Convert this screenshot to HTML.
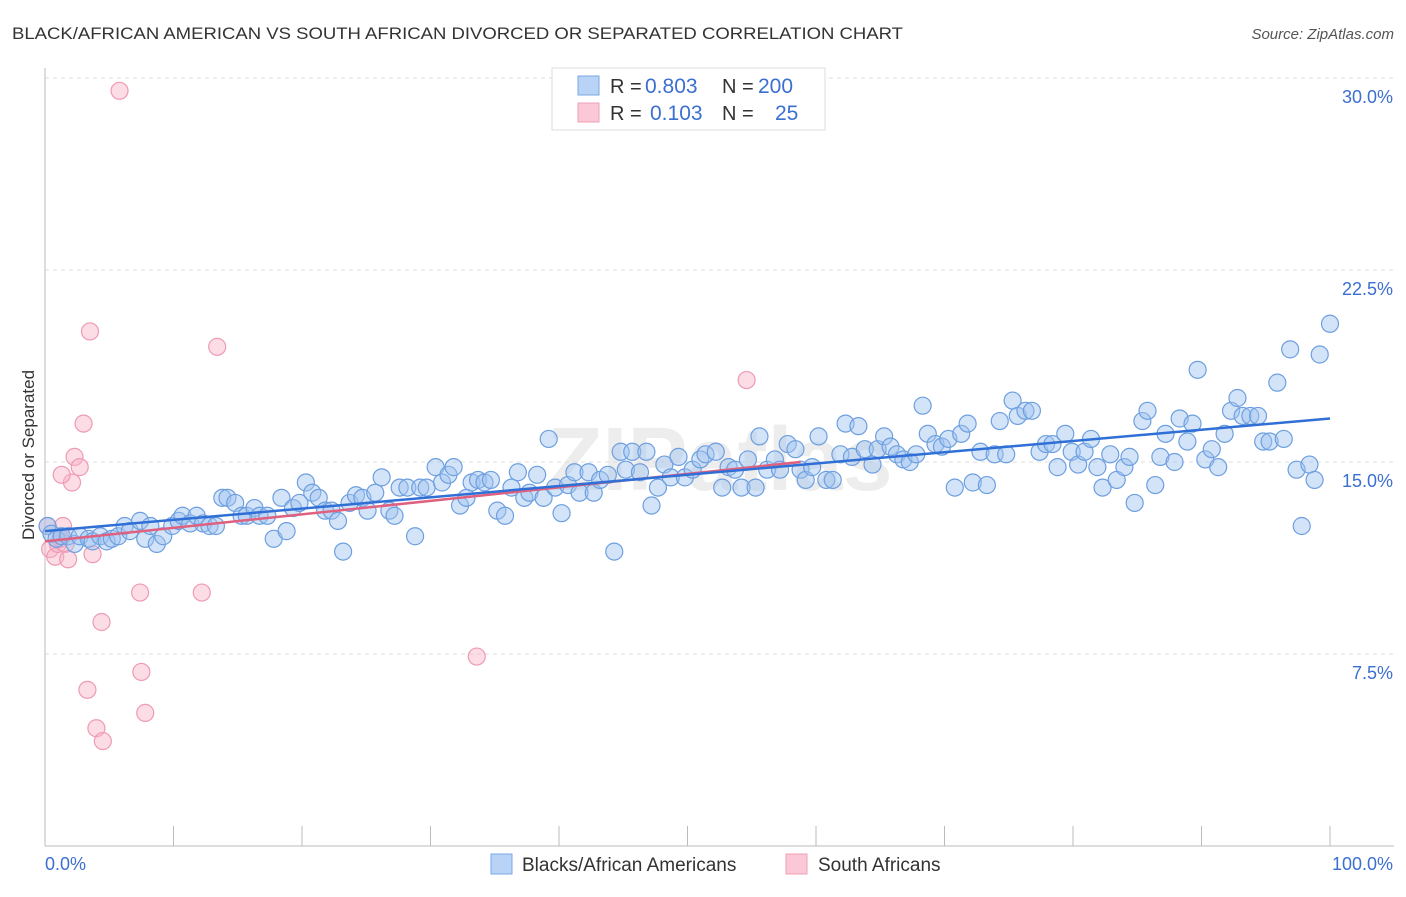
<!DOCTYPE html>
<html><head><meta charset="utf-8"><style>
body{margin:0;background:#fff;font-family:"Liberation Sans",sans-serif}
</style></head><body>
<svg id="chart" width="1406" height="892" xmlns="http://www.w3.org/2000/svg" font-family="Liberation Sans, sans-serif">
<text x="12" y="39" font-size="17" fill="#333" textLength="891" lengthAdjust="spacingAndGlyphs">BLACK/AFRICAN AMERICAN VS SOUTH AFRICAN DIVORCED OR SEPARATED CORRELATION CHART</text>
<text x="1394" y="39" font-size="15" fill="#555" font-style="italic" text-anchor="end">Source: ZipAtlas.com</text>
<text x="720" y="490" font-size="90" fill="#e6e6e6" text-anchor="middle" font-weight="bold" opacity="0.7">ZIPatlas</text>
<g id="grid"></g><g id="axes"></g><g id="pink"></g><g id="blue"></g><g id="trends"></g>
<text transform="translate(34,455) rotate(-90)" font-size="17" fill="#333" text-anchor="middle">Divorced or Separated</text>
<g font-size="20">
<rect x="552" y="68" width="273" height="62" fill="#fff" stroke="#ddd"/>
<rect x="578" y="76" width="21" height="19" fill="#b8d3f5" stroke="#7aa8e6"/>
<rect x="578" y="103" width="21" height="19" fill="#fac8d6" stroke="#eda0b6"/>
<text x="610" y="93" fill="#333">R =</text>
<text x="645" y="93" fill="#3b6fd0" font-size="21">0.803</text>
<text x="722" y="93" fill="#333">N =</text>
<text x="758" y="93" fill="#3b6fd0" font-size="21">200</text>
<text x="610" y="120" fill="#333">R =</text>
<text x="650" y="120" fill="#3b6fd0" font-size="21">0.103</text>
<text x="722" y="120" fill="#333">N =</text>
<text x="775" y="120" fill="#3b6fd0" font-size="21">25</text>
</g>
<g>
<rect x="491" y="854" width="21" height="20" fill="#b8d3f5" stroke="#7aa8e6"/>
<text x="522" y="871" font-size="19" fill="#333">Blacks/African Americans</text>
<rect x="786" y="854" width="21" height="20" fill="#fac8d6" stroke="#eda0b6"/>
<text x="818" y="871" font-size="19" fill="#333">South Africans</text>
</g>
</svg>
<script>
const yTicks=[7.5,15,22.5,30];
const yTickLabels=["7.5%","15.0%","22.5%","30.0%"];
const xTicks=[0,10,20,30,40,50,60,70,80,90,100];
const blueX=[0.2,0.5,0.9,1.3,1.8,2.3,2.7,3.4,3.7,4.3,4.8,5.2,5.7,6.2,6.6,7.4,7.8,8.2,8.7,9.2,9.9,10.4,10.7,11.3,11.8,12.3,12.8,13.3,13.8,14.2,14.8,15.3,15.7,16.3,16.7,17.3,17.8,18.4,18.8,19.3,19.8,20.3,20.8,21.3,21.8,22.3,22.8,23.2,23.7,24.2,24.7,25.1,25.7,26.2,26.8,27.2,27.6,28.2,28.8,29.2,29.7,30.4,30.9,31.4,31.8,32.3,32.8,33.2,33.7,34.2,34.7,35.2,35.8,36.3,36.8,37.3,37.7,38.3,38.8,39.2,39.7,40.2,40.7,41.2,41.6,42.3,42.7,43.2,43.8,44.3,44.8,45.2,45.7,46.3,46.8,47.2,47.7,48.2,48.7,49.3,49.8,50.4,51.0,51.4,52.2,52.7,53.2,53.7,54.2,54.7,55.3,55.6,56.2,56.8,57.2,57.8,58.4,58.8,59.2,59.7,60.2,60.8,61.3,61.9,62.3,62.8,63.3,63.8,64.4,64.8,65.3,65.8,66.3,66.8,67.3,67.8,68.3,68.7,69.3,69.8,70.3,70.8,71.3,71.8,72.2,72.8,73.3,73.9,74.3,74.8,75.3,75.7,76.3,76.8,77.4,77.9,78.4,78.8,79.4,79.9,80.4,80.9,81.4,81.9,82.3,82.9,83.4,84.0,84.4,84.8,85.4,85.8,86.4,86.8,87.2,87.9,88.3,88.9,89.3,89.7,90.3,90.8,91.3,91.8,92.3,92.8,93.2,93.8,94.4,94.8,95.3,95.9,96.4,96.9,97.4,97.8,98.4,98.8,99.2,100];
const blueY=[12.5,12.2,12.0,12.1,12.1,11.8,12.1,12.0,11.9,12.1,11.9,12.0,12.1,12.5,12.3,12.7,12.0,12.5,11.8,12.1,12.5,12.7,12.9,12.6,12.9,12.6,12.5,12.5,13.6,13.6,13.4,12.9,12.9,13.2,12.9,12.9,12.0,13.6,12.3,13.2,13.4,14.2,13.8,13.6,13.1,13.1,12.7,11.5,13.4,13.7,13.6,13.1,13.8,14.4,13.1,12.9,14.0,14.0,12.1,14.0,14.0,14.8,14.2,14.5,14.8,13.3,13.6,14.2,14.3,14.2,14.3,13.1,12.9,14.0,14.6,13.6,13.8,14.5,13.6,15.9,14.0,13.0,14.1,14.6,13.8,14.6,13.8,14.3,14.5,11.5,15.4,14.7,15.4,14.6,15.4,13.3,14.0,14.9,14.4,15.2,14.4,14.7,15.1,15.3,15.4,14.0,14.8,14.7,14.0,15.1,14.0,16.0,14.7,15.1,14.7,15.7,15.5,14.7,14.3,14.8,16.0,14.3,14.3,15.3,16.5,15.2,16.4,15.5,14.9,15.5,16.0,15.6,15.3,15.1,15.0,15.3,17.2,16.1,15.7,15.6,15.9,14.0,16.1,16.5,14.2,15.4,14.1,15.3,16.6,15.3,17.4,16.8,17.0,17.0,15.4,15.7,15.7,14.8,16.1,15.4,14.9,15.4,15.9,14.8,14.0,15.3,14.3,14.8,15.2,13.4,16.6,17.0,14.1,15.2,16.1,15.0,16.7,15.8,16.5,18.6,15.1,15.5,14.8,16.1,17.0,17.5,16.8,16.8,16.8,15.8,15.8,18.1,15.9,19.4,14.7,12.5,14.9,14.3,19.2,20.4];
const pinkX=[0.2,0.4,0.8,1.0,1.2,1.4,1.6,1.8,2.1,2.3,1.3,2.7,3.0,3.5,3.7,4.0,4.5,4.4,3.3,5.8,7.4,7.5,7.8,12.2,13.4,33.6,54.6];
const pinkY=[12.5,11.6,11.3,11.8,12.0,12.5,11.8,11.2,14.2,15.2,14.5,14.8,16.5,20.1,11.4,4.6,4.1,8.75,6.1,29.5,9.9,6.8,5.2,9.9,19.5,7.4,18.2];
const blueTrend=[[0,12.3],[100,16.7]];
const pinkTrend=[[0,11.9],[58.8,15.0]];
const NS="http://www.w3.org/2000/svg";
const X0=45,X1=1330,Y0=846,PX=25.6;
const sx=v=>X0+(X1-X0)*v/100;
const sy=v=>Y0-v*PX;
function mk(t,a,p){const e=document.createElementNS(NS,t);for(const k in a)e.setAttribute(k,a[k]);p.appendChild(e);return e;}
const grid=document.getElementById('grid'),axes=document.getElementById('axes');
yTicks.forEach((t,i)=>{
  const l=mk('line',{x1:X0,x2:1394,y1:sy(t),y2:sy(t),stroke:'#ddd','stroke-dasharray':'4,4'},grid);
  
  
  const tx=mk('text',{x:1393,y:sy(t)+25,'font-size':18,fill:'#3b6fd0','text-anchor':'end'},axes);
  tx.textContent=yTickLabels[i];
  
  
});
const ax=mk('line',{x1:X0,x2:1394,y1:Y0,y2:Y0,stroke:'#bbb'},axes);


const ay=mk('line',{x1:X0,x2:X0,y1:68,y2:Y0,stroke:'#bbb'},axes);


xTicks.forEach(t=>{
  const l=mk('line',{x1:sx(t),x2:sx(t),y1:826,y2:Y0,stroke:'#bbb'},axes);
  
  
});
[[0,"0.0%","start",45],[100,"100.0%","end",1393]].forEach(d=>{
  const tx=mk('text',{x:d[3],y:870,'font-size':18,fill:'#3b6fd0','text-anchor':d[2]},axes);
  tx.textContent=d[1];
  
  
});
const pg=document.getElementById('pink');
pinkX.forEach((x,i)=>{
  const c=mk('circle',{cx:sx(x),cy:sy(pinkY[i]),r:8.5,fill:'rgba(248,180,200,0.45)',stroke:'#ee9ab4','stroke-width':1.2},pg);
  
  
});
const bg=document.getElementById('blue');
blueX.forEach((x,i)=>{
  const c=mk('circle',{cx:sx(x),cy:sy(blueY[i]),r:8.5,fill:'rgba(160,196,240,0.45)',stroke:'#6d9fe0','stroke-width':1.2},bg);
  
  
});
const tg=document.getElementById('trends');
const pl=mk('line',{x1:sx(pinkTrend[0][0]),y1:sy(pinkTrend[0][1]),x2:sx(pinkTrend[1][0]),y2:sy(pinkTrend[1][1]),stroke:'#e0607f','stroke-width':2.5},tg);


const bl=mk('line',{x1:sx(blueTrend[0][0]),y1:sy(blueTrend[0][1]),x2:sx(blueTrend[1][0]),y2:sy(blueTrend[1][1]),stroke:'#2f6fd6','stroke-width':2.5},tg);


</script>
</body></html>
